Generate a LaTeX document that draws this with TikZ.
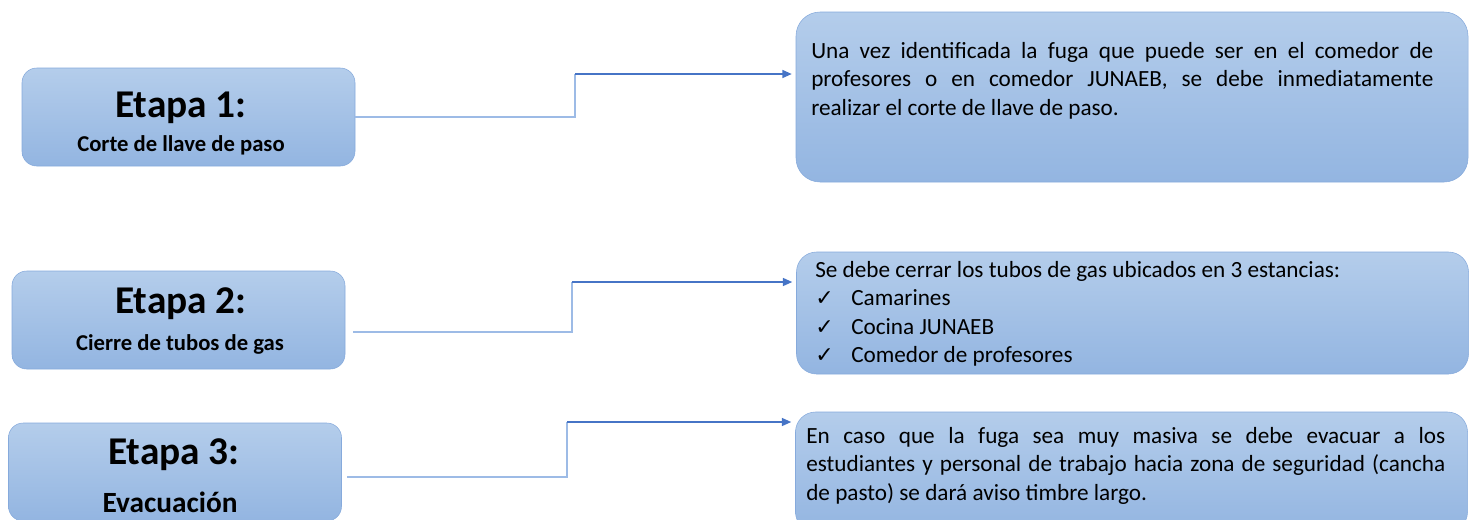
\documentclass[tikz,border=0pt]{standalone}
\usepackage{fontspec}
\setmainfont{Carlito}
\newfontfamily\symfont{DejaVu Sans}
\usetikzlibrary{arrows.meta}
\definecolor{boxtop}{HTML}{B4CDEB}
\definecolor{boxbot}{HTML}{93B5E1}
\definecolor{boxline}{HTML}{86AADC}
\definecolor{palelink}{HTML}{9DBBE6}
\definecolor{darklink}{HTML}{4674C6}
\newcommand{\chk}{\makebox[27pt][l]{\symfont\fontsize{16.5}{18}\selectfont\char"2713}}

\begin{document}
\begin{tikzpicture}[
  x=0.75pt, y=-0.75pt,
  etapa/.style={rectangle, draw=boxline, top color=boxtop, bottom color=boxbot, rounded corners=11pt, minimum width=249.75pt, minimum height=73.5pt},
  desc/.style={rectangle, draw=boxline, top color=boxtop, bottom color=boxbot, minimum width=504pt},
  title/.style={font=\fontsize{29.5}{34}\selectfont\bfseries, anchor=base, inner sep=0pt},
  sub/.style={font=\fontsize{17}{20}\selectfont\bfseries, anchor=base, inner sep=0pt},
  txt/.style={font=\fontsize{17.4}{21.4}\selectfont, anchor=base west, inner sep=0pt},
  link/.style={draw=palelink, line width=1.5pt},
  arr/.style={draw=darklink, line width=1.1pt, -{Triangle[length=7pt,width=6pt]}, shorten >=3pt}
]
  \useasboundingbox (0,0) rectangle (1470,519);
  \clip (0,0) rectangle (1470,519);

  % Stages
  \node[etapa] (e1) at (188.5,117) {};
  \node[etapa] (e2) at (178.5,320) {};
  \node[etapa] (e3) at (175,472) {};
  \node[title] (t1) at (181,117) {Etapa 1:};
  \node[sub]   (s1) at (181,151) {Corte de llave de paso};
  \node[title] (t2) at (181,313) {Etapa 2:};
  \node[sub]   (s2) at (180,350) {Cierre de tubos de gas};
  \node[title] (t3) at (174,464) {Etapa 3:};
  \node[sub, font=\fontsize{22}{24}\selectfont\bfseries] (s3) at (170,512) {Evacuación};

  % Descriptions
  \node[desc, rounded corners=18pt, minimum height=127.5pt] (d1) at (1132,97) {};
  \node[desc, rounded corners=15pt, minimum height=91.5pt] (d2) at (1132.5,313) {};
  \node[desc, rounded corners=15pt, minimum height=90pt] (d3) at (1131.5,472) {};

  \node[txt, text width=466.5pt, align=justify] (x1) at (811,58) {\hyphenpenalty=10000 Una vez identificada la fuga que puede ser en el comedor de\linebreak profesores o en comedor JUNAEB, se debe inmediatamente\linebreak realizar el corte de llave de paso.};
  \node[txt, text width=480pt, align=flush left] (x2) at (815,277) {Se debe cerrar los tubos de gas ubicados en 3 estancias:\\ \chk Camarines\\ \chk Cocina JUNAEB\\ \chk Comedor de profesores};
  \node[txt, text width=479.25pt, align=justify] (x3) at (806,443) {\hyphenpenalty=10000 En caso que la fuga sea muy masiva se debe evacuar a los\linebreak estudiantes y personal de trabajo hacia zona de seguridad (cancha\linebreak de pasto) se dará aviso timbre largo.};

  % Connectors
  \coordinate (j1) at (575,74);
  \coordinate (a2) at (353,332);
  \coordinate (j2) at (572,282);
  \coordinate (a3) at (347,477);
  \coordinate (j3) at (567,422);

  \draw[link] (e1.east) -| (j1);
  \draw[arr]  (j1) -- (j1 -| d1.west);
  \draw[link] (a2) -| (j2);
  \draw[arr]  (j2) -- (j2 -| d2.west);
  \draw[link] (a3) -| (j3);
  \draw[arr]  (j3) -- (j3 -| d3.west);
\end{tikzpicture}
\end{document}
